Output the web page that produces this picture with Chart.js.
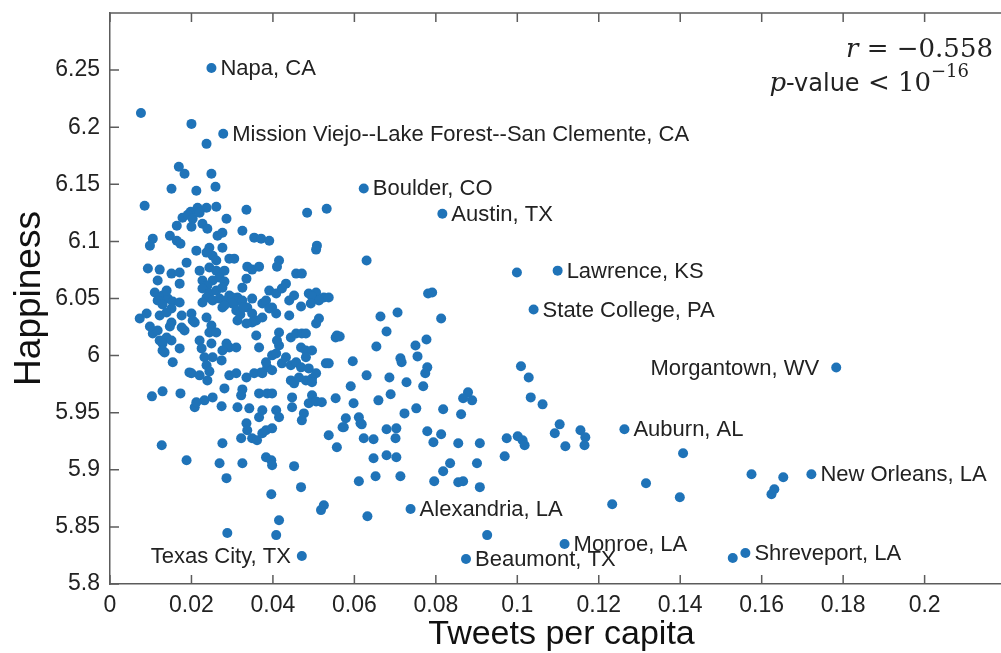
<!DOCTYPE html>
<html>
<head>
<meta charset="utf-8">
<script src="https://cdn.jsdelivr.net/npm/chart.js@4.4.1/dist/chart.umd.min.js"></script>
<style>
  html, body { margin: 0; padding: 0; background: #fff; overflow: hidden; }
  #wrap { width: 1001px; height: 653px; overflow: hidden; }
</style>
</head>
<body>
<div id="wrap"><canvas id="happyChart" width="1018" height="653"></canvas></div>
<script>
// one entry per city (unlabelled ones)
const tweetsPerCapita = [
  0.0076, 0.0200, 0.0237, 0.0169, 0.0183, 0.0249, 0.0151, 0.0212, 0.0259, 0.0085,
  0.0261, 0.0335, 0.0484, 0.0532, 0.0286, 0.0198, 0.0215, 0.0237, 0.0178, 0.0191,
  0.0203, 0.0220, 0.0164, 0.0200, 0.0227, 0.0239, 0.0264, 0.0276, 0.0325, 0.0354,
  0.0371, 0.0391, 0.0105, 0.0098, 0.0147, 0.0164, 0.0173, 0.0212, 0.0244, 0.0252,
  0.0276, 0.0237, 0.0261, 0.0293, 0.0305, 0.0188, 0.0415, 0.0410, 0.0508, 0.0506,
  0.0093, 0.0122, 0.0151, 0.0171, 0.0117, 0.0171, 0.0220, 0.0244, 0.0261, 0.0281,
  0.0227, 0.0252, 0.0269, 0.0281, 0.0239, 0.0337, 0.0349, 0.0366, 0.0335, 0.0325,
  0.0457, 0.0471, 0.0110, 0.0129, 0.0142, 0.0154, 0.0171, 0.0139, 0.0227, 0.0244,
  0.0261, 0.0276, 0.0293, 0.0313, 0.0349, 0.0374, 0.0391, 0.0408, 0.0422, 0.0432,
  0.0488, 0.0506, 0.0525, 0.0469, 0.0117, 0.0129, 0.0151, 0.0237, 0.0227, 0.0252,
  0.0269, 0.0286, 0.0276, 0.0300, 0.0310, 0.0325, 0.0337, 0.0383, 0.0398, 0.0440,
  0.0452, 0.0496, 0.0513, 0.0537, 0.0630, 0.0073, 0.0090, 0.0122, 0.0139, 0.0105,
  0.0117, 0.0122, 0.0139, 0.0151, 0.0129, 0.0134, 0.0154, 0.0171, 0.0151, 0.0147,
  0.0176, 0.0200, 0.0208, 0.0183, 0.0237, 0.0249, 0.0244, 0.0261, 0.0220, 0.0225,
  0.0249, 0.0232, 0.0237, 0.0244, 0.0239, 0.0195, 0.0274, 0.0286, 0.0293, 0.0310,
  0.0300, 0.0310, 0.0320, 0.0327, 0.0313, 0.0281, 0.0349, 0.0359, 0.0374, 0.0359,
  0.0391, 0.0408, 0.0440, 0.0415, 0.0415, 0.0444, 0.0457, 0.0471, 0.0469, 0.0481,
  0.0496, 0.0493, 0.0506, 0.0513, 0.0530, 0.0554, 0.0293, 0.0310, 0.0281, 0.0335,
  0.0371, 0.0386, 0.0398, 0.0422, 0.0432, 0.0444, 0.0457, 0.0469, 0.0481, 0.0488,
  0.0444, 0.0452, 0.0481, 0.0496, 0.0506, 0.0383, 0.0408, 0.0366, 0.0410,
  0.0481, 0.0349, 0.0335, 0.0200, 0.0220, 0.0354, 0.0374, 0.0398, 0.0464, 0.0496,
  0.0557, 0.0176, 0.0203, 0.0098, 0.0129, 0.0252, 0.0276,
  0.0103, 0.0129, 0.0173, 0.0208, 0.0232, 0.0252, 0.0274, 0.0313, 0.0325, 0.0322,
  0.0366, 0.0386, 0.0398, 0.0408, 0.0415, 0.0447, 0.0447, 0.0496, 0.0488, 0.0506,
  0.0520, 0.0476, 0.0471, 0.0554, 0.0537, 0.0557, 0.0127, 0.0188, 0.0276, 0.0269,
  0.0325, 0.0322, 0.0366, 0.0335, 0.0337, 0.0349, 0.0361, 0.0374, 0.0383, 0.0398,
  0.0383, 0.0396, 0.0398, 0.0452, 0.0286, 0.0396, 0.0415, 0.0408, 0.0288, 0.0469,
  0.0518, 0.0525, 0.0342, 0.0374, 0.0212, 0.0574, 0.0615, 0.0623, 0.0647, 0.0647,
  0.0679, 0.0703, 0.0701, 0.0679, 0.0703, 0.0611, 0.0652, 0.0713, 0.0632, 0.0779,
  0.0813, 0.0794, 0.0855, 0.0908, 0.0835, 0.0818, 0.0796, 0.0855, 0.0867, 0.0901,
  0.0908, 0.0926, 0.0974, 0.0969, 0.1001, 0.1013, 0.1018, 0.1104, 0.1092, 0.1118,
  0.1155, 0.1167, 0.1165, 0.1316, 0.1233, 0.1407, 0.1399, 0.1575, 0.1624, 0.1631,
  0.1653, 0.1529, 0.0999, 0.0781, 0.0791, 0.0664, 0.0706, 0.0813, 0.0564, 0.0679,
  0.0654, 0.0750, 0.0755, 0.0777, 0.0537, 0.0596, 0.0713, 0.0716, 0.0779, 0.0774,
  0.0630, 0.0686, 0.0728, 0.0769, 0.0591, 0.0598, 0.0659, 0.0689, 0.0879, 0.0867,
  0.0889, 0.1009, 0.1028, 0.1033, 0.1062, 0.0818, 0.0752, 0.0723, 0.0862, 0.0579, 0.0571, 0.0611, 0.0618
];
const happiness = [
  6.2125, 6.2029, 6.1854, 6.1653, 6.1592, 6.1592, 6.1461, 6.1443, 6.1478, 6.1312,
  6.1304, 6.1277, 6.1251, 6.1286, 6.1199, 6.1260, 6.1295, 6.1295, 6.1207, 6.1234,
  6.1199, 6.1251, 6.1137, 6.1129, 6.1155, 6.1111, 6.1050, 6.1076, 6.1094, 6.1033,
  6.1024, 6.1006, 6.1024, 6.0963, 6.1050, 6.1006, 6.0980, 6.0919, 6.0945, 6.0875,
  6.0945, 6.0902, 6.0832, 6.0849, 6.0849, 6.0814, 6.0832, 6.0779, 6.0963, 6.0928,
  6.0762, 6.0753, 6.0718, 6.0727, 6.0657, 6.0630, 6.0744, 6.0771, 6.0744, 6.0744,
  6.0657, 6.0657, 6.0683, 6.0648, 6.0613, 6.0779, 6.0753, 6.0779, 6.0674, 6.0595,
  6.0718, 6.0718, 6.0552, 6.0526, 6.0499, 6.0473, 6.0465, 6.0569, 6.0587, 6.0543,
  6.0569, 6.0595, 6.0526, 6.0508, 6.0499, 6.0456, 6.0569, 6.0543, 6.0587, 6.0630,
  6.0543, 6.0552, 6.0508, 6.0430, 6.0482, 6.0447, 6.0412, 6.0508, 6.0465, 6.0482,
  6.0499, 6.0482, 6.0421, 6.0508, 6.0473, 6.0482, 6.0421, 6.0482, 6.0421, 6.0482,
  6.0526, 6.0517, 6.0482, 6.0508, 6.0832, 6.0325, 6.0368, 6.0351, 6.0377, 6.0194,
  6.0220, 6.0133, 6.0159, 6.0133, 6.0106, 6.0028, 5.9941, 6.0063, 6.0290, 6.0255,
  6.0351, 6.0368, 6.0290, 6.0220, 6.0334, 6.0264, 6.0203, 6.0203, 6.0133, 6.0063,
  6.0106, 5.9985, 5.9915, 5.9862, 5.9783, 5.9853, 5.9958, 6.0106, 6.0071, 6.0071,
  6.0456, 6.0395, 6.0360, 6.0421, 6.0307, 6.0438, 6.0368, 6.0307, 6.0334, 6.0176,
  6.0412, 6.0368, 6.0351, 6.0203, 6.0089, 6.0159, 6.0194, 6.0194, 6.0071, 6.0045,
  6.0045, 6.0456, 6.0281, 6.0325, 5.9932, 6.0159, 5.9827, 5.9845, 5.9713, 5.9809,
  5.9853, 5.9897, 6.0002, 5.9932, 5.9985, 5.9915, 5.9941, 5.9897, 5.9985, 5.9888,
  5.9783, 5.9757, 5.9783, 5.9800, 5.9845, 5.9941, 6.0019, 6.0071, 6.0133,
  6.0194, 6.0290, 6.0281, 5.9845, 5.9827, 5.9845, 5.9845, 5.9871, 5.9809, 5.9766,
  6.0176, 6.0246, 6.0307, 6.0255, 6.0045, 5.9985, 6.0045,
  5.9643, 5.9687, 5.9669, 5.9547, 5.9608, 5.9634, 5.9556, 5.9547, 5.9704, 5.9652,
  5.9669, 5.9669, 5.9669, 5.9521, 5.9460, 5.9634, 5.9547, 5.9652, 5.9582, 5.9599,
  5.9591, 5.9494, 5.9433, 5.9626, 5.9302, 5.9197, 5.9215, 5.9084, 5.9232, 5.9057,
  5.9057, 5.9276, 5.9460, 5.9407, 5.9346, 5.9276, 5.9259, 5.9320, 5.9346, 5.9363,
  5.9110, 5.9084, 5.9040, 5.9032, 5.8927, 5.8786, 5.8559, 5.8428, 5.8446, 5.8848,
  5.8647, 5.8690, 5.9538, 5.9521, 5.9591, 5.9372, 5.9407, 5.9276, 5.9267, 5.9101,
  5.9355, 5.9363, 5.9276, 5.9127, 5.9110, 5.8900, 5.8944, 5.8944, 5.8594, 5.9337,
  5.9311, 5.9241, 5.9232, 5.9232, 5.9057, 5.8988, 5.8900, 5.8891, 5.8900, 5.9057,
  5.8848, 5.8428, 5.9276, 5.9119, 5.9293, 5.9259, 5.9215, 5.9398, 5.9320, 5.9206,
  5.9346, 5.9285, 5.9215, 5.8883, 5.8699, 5.9145, 5.8760, 5.8961, 5.8786, 5.8830,
  5.8935, 5.8227, 6.0727, 6.0543, 6.0552, 6.0342, 6.0377, 6.0325, 6.0168, 6.0211,
  6.0080, 6.0089, 5.9993, 6.0141, 5.9932, 5.9950, 5.9976, 5.9941, 5.9897, 5.9845,
  5.9827, 5.9809, 5.9766, 5.9731, 5.9731, 5.9582, 5.9608, 5.9661, 5.9678, 5.9626,
  5.9608, 5.9906, 5.9809, 5.9634, 5.9573, 5.9530, 5.9538, 5.9494, 5.9486, 5.9451, 5.9372, 5.9460, 5.9398
];

// labelled cities
const cityNames = ['Napa, CA', 'Mission Viejo--Lake Forest--San Clemente, CA', 'Boulder, CO', 'Austin, TX',
  'Lawrence, KS', 'State College, PA', 'Morgantown, WV ', 'Auburn, AL', 'New Orleans, LA',
  'Alexandria, LA', 'Monroe, LA', 'Beaumont, TX', 'Shreveport, LA', 'Texas City, TX'];
const cityTweets = [0.0249, 0.0278, 0.0623, 0.0816, 0.1099, 0.1040, 0.1783, 0.1263, 0.1722,
  0.0738, 0.1116, 0.0874, 0.1560, 0.0471];
const cityHappiness = [6.2518, 6.1942, 6.1464, 6.1242, 6.0744, 6.0403, 5.9896, 5.9355, 5.8961,
  5.8656, 5.8350, 5.8219, 5.8271, 5.8245];
const citySide = ['right', 'right', 'right', 'right', 'right', 'right', 'left', 'right', 'right',
  'right', 'right', 'right', 'right', 'left'];

const xTicks = [0, 0.02, 0.04, 0.06, 0.08, 0.1, 0.12, 0.14, 0.16, 0.18, 0.2];
const xTickLabels = ['0', '0.02', '0.04', '0.06', '0.08', '0.1', '0.12', '0.14', '0.16', '0.18', '0.2'];
const yTicks = [5.8, 5.85, 5.9, 5.95, 6, 6.05, 6.1, 6.15, 6.2, 6.25];
const yTickLabels = ['5.8', '5.85', '5.9', '5.95', '6', '6.05', '6.1', '6.15', '6.2', '6.25'];

const dotColor = 'rgb(31,115,184)';
const axisColor = '#5c5c5c';
const textColor = '#222';
const sans = '"Liberation Sans", Arial, Helvetica, sans-serif';

const points = tweetsPerCapita.map((t, i) => ({ x: t, y: happiness[i] }));
const cityPoints = cityTweets.map((t, i) => ({ x: t, y: cityHappiness[i] }));

// matlab-ish box: top edge and inward ticks
const boxPlugin = {
  id: 'box',
  beforeDatasetsDraw(chart) {
    const { ctx, chartArea: a, scales: { x, y } } = chart;
    ctx.save();
    ctx.strokeStyle = axisColor;
    ctx.lineWidth = 1.5;
    ctx.beginPath();
    ctx.moveTo(a.left, a.top);
    ctx.lineTo(a.right, a.top);
    xTicks.forEach(v => {
      const px = x.getPixelForValue(v);
      ctx.moveTo(px, a.bottom); ctx.lineTo(px, a.bottom - 9);
      ctx.moveTo(px, a.top); ctx.lineTo(px, a.top + 9);
    });
    yTicks.forEach(v => {
      const py = y.getPixelForValue(v);
      ctx.moveTo(a.left, py); ctx.lineTo(a.left + 9, py);
    });
    ctx.stroke();
    ctx.restore();
  },
  afterDatasetsDraw(chart) {
    const { ctx, scales: { x, y } } = chart;
    ctx.save();
    ctx.fillStyle = textColor;
    ctx.font = '22px ' + sans;
    ctx.textBaseline = 'middle';
    cityNames.forEach((name, i) => {
      const px = x.getPixelForValue(cityTweets[i]);
      const py = y.getPixelForValue(cityHappiness[i]);
      if (citySide[i] === 'left') {
        ctx.textAlign = 'right';
        ctx.fillText(name, px - 11, py + 1);
      } else {
        ctx.textAlign = 'left';
        ctx.fillText(name, px + 9, py + 1);
      }
    });

    // stats text, top right
    const runs1 = [
      { t: 'r', f: 'italic 26px "DejaVu Serif", serif' },
      { t: ' = \u22120.558', f: '26px "DejaVu Serif", serif' }
    ];
    const runs2 = [
      { t: 'p', f: 'italic 26px "DejaVu Serif", serif' },
      { t: '-value', f: '24px "DejaVu Sans", sans-serif' },
      { t: ' < 10', f: '26px "DejaVu Serif", serif' },
      { t: '\u221216', f: '18px "DejaVu Serif", serif', dy: -14 }
    ];
    const drawRuns = (runs, right, base) => {
      let w = 0;
      runs.forEach(r => { ctx.font = r.f; w += ctx.measureText(r.t).width; });
      let cx = right - w;
      ctx.textAlign = 'left';
      ctx.textBaseline = 'alphabetic';
      runs.forEach(r => {
        ctx.font = r.f;
        ctx.fillText(r.t, cx, base + (r.dy || 0));
        cx += ctx.measureText(r.t).width;
      });
    };
    drawRuns(runs1, 993, 57);
    drawRuns(runs2, 969, 91);
    ctx.restore();
  }
};

const chart = new Chart(document.getElementById('happyChart'), {
  type: 'scatter',
  data: {
    datasets: [
      { data: points, backgroundColor: dotColor, borderWidth: 0, pointRadius: 5, pointHoverRadius: 5 },
      { data: cityPoints, backgroundColor: dotColor, borderWidth: 0, pointRadius: 5, pointHoverRadius: 5 }
    ]
  },
  options: {
    responsive: false,
    animation: false,
    layout: { padding: { top: 13, right: 0, bottom: 0, left: 0 } },
    plugins: { legend: { display: false }, tooltip: { enabled: false } },
    scales: {
      x: {
        type: 'linear',
        min: 0,
        max: 0.2217,
        afterFit: s => { s.height = 69; s.paddingLeft = 0; s.paddingRight = 0; },
        afterBuildTicks: s => { s.ticks = xTicks.map(v => ({ value: v })); },
        grid: { display: true, drawOnChartArea: false, drawTicks: false },
        border: { display: true, color: axisColor, width: 1.5 },
        ticks: {
          autoSkip: false, maxRotation: 0, padding: 8, color: textColor,
          font: { family: sans, size: 23 },
          callback: (v, i) => xTickLabels[i]
        },
        title: {
          display: true, text: 'Tweets per capita', color: '#111',
          font: { family: sans, size: 34 }, padding: { top: 0, bottom: -2 }
        }
      },
      y: {
        type: 'linear',
        min: 5.8,
        max: 6.3,
        afterFit: s => { s.width = 110; s.paddingTop = 0; s.paddingBottom = 0; },
        afterBuildTicks: s => { s.ticks = yTicks.map(v => ({ value: v })); },
        grid: { display: true, drawOnChartArea: false, drawTicks: false },
        border: { display: true, color: axisColor, width: 1.5 },
        ticks: {
          autoSkip: false, padding: 10, color: textColor,
          font: { family: sans, size: 23 },
          callback: (v, i) => yTickLabels[i]
        },
        title: {
          display: true, text: 'Happiness', color: '#111',
          font: { family: sans, size: 37 }, padding: { top: 8, bottom: 0 }
        }
      }
    }
  },
  plugins: [boxPlugin]
});
</script>
</body>
</html>
